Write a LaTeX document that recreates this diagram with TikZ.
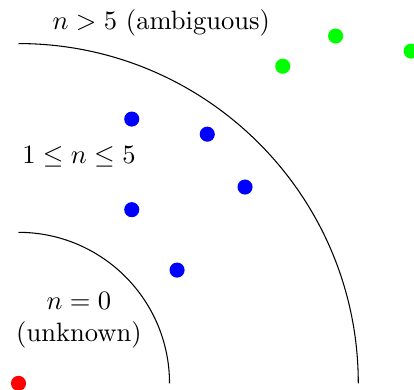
\documentclass[tikz,border=0pt]{standalone}
\begin{document}
\begin{tikzpicture}[dot/.style={circle,inner sep=0pt,minimum size=0.2cm}]
\useasboundingbox (-0.245,-0.075) rectangle (5.238,5.077);
\draw (0,2) arc[start angle=90,end angle=0,radius=2];
\draw (0,4.5) arc[start angle=90,end angle=0,radius=4.5];
\node[dot,fill=red] (r) at (0,0) {};
\node[dot,fill=blue] (b1) at (1.5,3.5) {};
\node[dot,fill=blue] (b2) at (2.5,3.3) {};
\node[dot,fill=blue] (b3) at (3,2.6) {};
\node[dot,fill=blue] (b4) at (1.5,2.3) {};
\node[dot,fill=blue] (b5) at (2.1,1.5) {};
\node[dot,fill=green] (g1) at (3.5,4.2) {};
\node[dot,fill=green] (g2) at (4.2,4.6) {};
\node[dot,fill=green] (g3) at (5.2,4.4) {};
\node (l1) at (1.89,4.77) {$n>5$ (ambiguous)};
\node (l2) at (0.8,3.0) {$1\le n\le 5$};
\node[align=center] (l3) at (0.8,0.84) {$n=0$\\(unknown)};
\end{tikzpicture}
\end{document}
